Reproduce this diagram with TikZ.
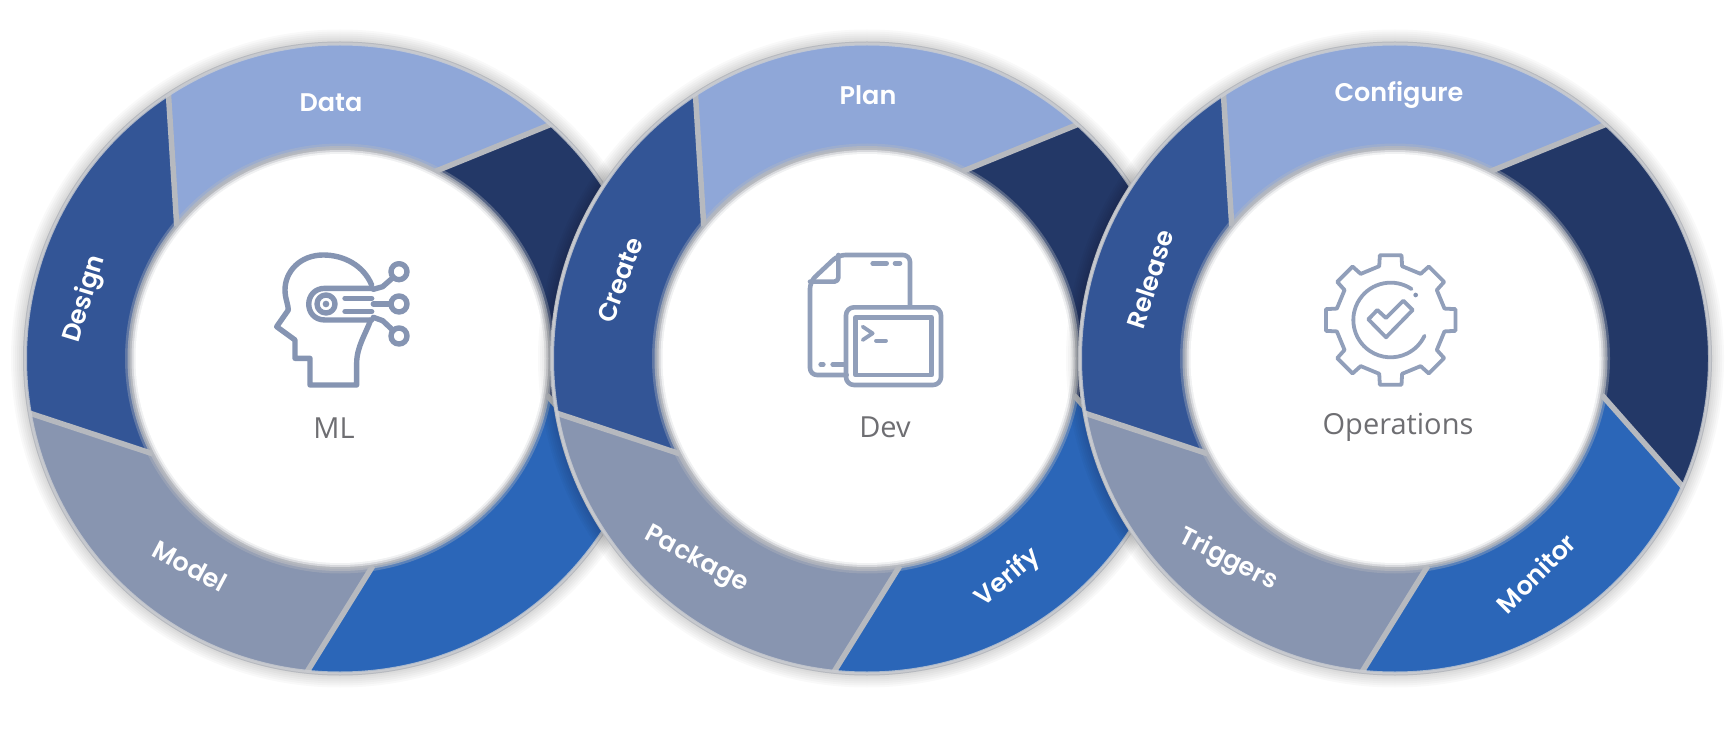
\documentclass[tikz,border=0pt]{standalone}
\usepackage{fontspec}
\setmainfont{Open Sans}
\newfontfamily\ringfont{Poppins SemiBold}
\definecolor{cData}{HTML}{8FA7D8}
\definecolor{cDark}{HTML}{233867}
\definecolor{cBlue}{HTML}{2B66B8}
\definecolor{cGrey}{HTML}{8895B0}
\definecolor{cDesign}{HTML}{335596}
\definecolor{cSep}{HTML}{B6B9BF}
\definecolor{cIcon}{HTML}{8594B2}
\definecolor{cText}{HTML}{6E6E72}
\tikzset{
  seplin/.style={cSep,line width=5.5pt},
  seglabel/.style={text=white,font=\ringfont\fontsize{25.5}{28}\selectfont,inner sep=0pt},
  centerlabel/.style={text=cText,font=\fontsize{29}{32}\selectfont,inner sep=0pt},
  headico/.style={cIcon,line width=5.4pt,line join=round,line cap=round},
  ico/.style={cIcon!90!white,line width=4.6pt,line join=round,line cap=round},
  icothin/.style={cIcon!90!white,line width=3.8pt,line join=round,line cap=round},
}
\newcommand{\ringseg}[5]{%
  \fill[#5] (#1:314) arc[start angle=#1,end angle=#2,radius=314]
     -- (#3:208) arc[start angle=#3,end angle=#4,radius=208] -- cycle;}
\newcommand{\wheel}[1]{%
\begin{scope}[shift={(#1,381.5)}]
  \foreach \r in {329,327,...,317}{\fill[black,opacity=.025] (0,0) circle[radius=\r];}
  \fill[cSep] (0,0) circle[radius=317];
  \ringseg{123}{48}{63}{141}{cData}
  \ringseg{48}{-24}{-10}{63}{cDark}
  \ringseg{-24}{-96}{-81}{-10}{cBlue}
  \ringseg{-96}{-170}{-153}{-81}{cGrey}
  \ringseg{190}{123}{141}{207}{cDesign}
  \draw[seplin] (123:315)--(141:210);
  \draw[seplin] (48:315)--(63:210);
  \draw[seplin] (-24:315)--(-10:210);
  \draw[seplin] (-96:315)--(-81:210);
  \draw[seplin] (190:315)--(207:210);
  \draw[cSep!70!white,opacity=.8,line width=3pt] (0,0) circle[radius=314.5];
  \fill[cSep,opacity=.35] (0,0) circle[radius=215];
  \fill[cSep,opacity=.7] (0,0) circle[radius=212.5];
  \fill[cSep] (0,0) circle[radius=210.5];
  \fill[cSep!55!white] (0,0) circle[radius=208.5];
  \fill[cSep!20!white] (0,0) circle[radius=206.5];
  \fill[white] (0,0) circle[radius=204.5];
\end{scope}}
\begin{document}
\begin{tikzpicture}[x=1pt,y=1pt]
\useasboundingbox (0,0) rectangle (1732,740);
\fill[white] (0,0) rectangle (1732,740);
\wheel{340}
\wheel{867}
\wheel{1395}
% labels, wheel 1
\node[seglabel] (data) at (331,637) {Data};
\node[seglabel,rotate=73] (design) at (85,441) {Design};
\node[seglabel,rotate=-28] (model) at (190,174) {Model};
\node[centerlabel] (ml) at (334,312) {ML};
% labels, wheel 2
\node[seglabel] (plan) at (868,645) {Plan};
\node[seglabel,rotate=70] (create) at (620,460) {Create};
\node[seglabel,rotate=-28] (package) at (696,180) {Package};
\node[seglabel,rotate=40] (verify) at (1008,162) {Verify};
\node[centerlabel] (dev) at (885,313) {Dev};
% labels, wheel 3
\node[seglabel] (configure) at (1399,645) {Configure};
\node[seglabel,rotate=72] (release) at (1150,461) {Release};
\node[seglabel,rotate=-27] (triggers) at (1228,180) {Triggers};
\node[seglabel,rotate=45] (monitor) at (1536,167) {Monitor};
\node[centerlabel] (ops) at (1398,313) {Operations};
% head icon
\begin{scope}[shift={(260,510)},xscale=1/3,yscale=-1/3]
  \draw[headico] (332,270) .. controls (318,310) and (290,350) .. (290,400) -- (290,465) -- (150,465) -- (150,385) -- (105,385) -- (105,330) -- (50,290) -- (85,240)
     .. controls (85,225) and (75,205) .. (75,180)
     .. controls (75,125) and (120,75) .. (190,75)
     .. controls (250,75) and (310,105) .. (335,165);
  \draw[headico] (335,175) -- (195,175) .. controls (130,175) and (130,270) .. (195,270) -- (335,270);
  \draw[headico] (198,222) circle[radius=27];
  \fill[cIcon] (198,222) circle[radius=10];
  \draw[headico] (255,205) -- (335,205);
  \draw[headico] (255,245) -- (335,245);
  \draw[headico] (417,125) circle[radius=24];
  \draw[headico] (417,222) circle[radius=24];
  \draw[headico] (417,318) circle[radius=24];
  \draw[headico] (340,178) -- (368,170) -- (400,142);
  \draw[headico] (340,222) -- (393,222);
  \draw[headico] (340,262) -- (368,272) -- (400,302);
\end{scope}
% document and terminal icon
\begin{scope}[shift={(790,510)},xscale=1/3,yscale=-1/3]
  \draw[ico,rounded corners=7pt] (360,225) -- (360,75) -- (145,75) -- (60,155) -- (60,435) -- (170,435);
  \draw[ico,rounded corners=4pt] (145,75) -- (145,155) -- (60,155);
  \draw[ico] (248,100) -- (290,100);
  \draw[ico] (315,100) -- (330,100);
  \draw[ico] (92,403) -- (100,403);
  \draw[ico] (128,403) -- (160,403);
  \draw[ico,rounded corners=8pt] (168,232) rectangle (453,465);
  \draw[ico] (197,262) rectangle (425,435);
  \draw[icothin] (218,290) -- (248,310) -- (218,330);
  \draw[icothin] (258,332) -- (288,332);
\end{scope}
% gear icon
\begin{scope}[shift={(1300,510)},xscale=1/3,yscale=-1/3]
  \draw[icothin,shift={(272,270)}] (-12:165)
    \foreach \a in {0,45,...,315}{ -- (\a-12:165) -- (\a-9.5:197) -- (\a+9.5:197) -- (\a+12:165) } -- cycle;
  \draw[icothin,shift={(272,270)}] (-56:112) arc[start angle=-56,end angle=-335,radius=112];
  \fill[cIcon] (347,195) circle[radius=7];
  \draw[icothin] (205,268) -- (232,240) -- (258,264) -- (310,212) -- (338,240) -- (258,322) -- cycle;
\end{scope}
\end{tikzpicture}
\end{document}
